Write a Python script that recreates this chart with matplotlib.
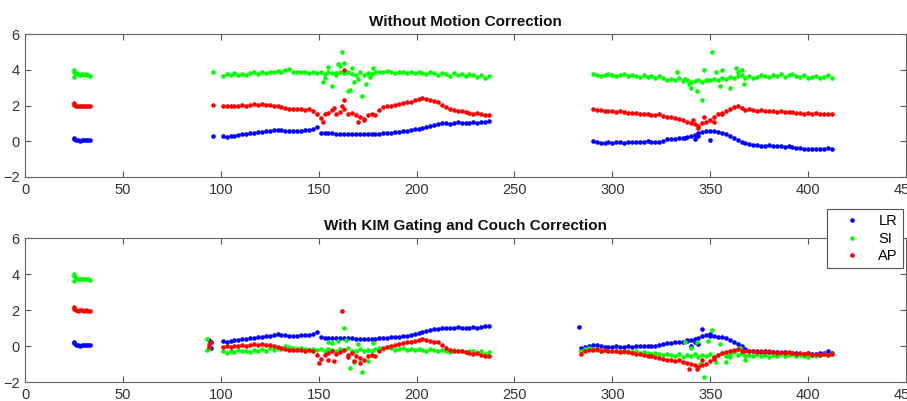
import matplotlib
matplotlib.use("Agg")
import matplotlib.pyplot as plt
import numpy as np

plt.rcParams["font.family"] = ["Liberation Sans", "DejaVu Sans"]

# time samples (s) for each acquisition segment
seg1_t = np.arange(25, 34, 1)
seg2_t = np.arange(101, 238, 2)
seg3_t = np.arange(290, 413, 2)
seg3b_t = np.arange(284, 413, 2)

# first segment (same in both panels)
lr_1 = [0.15, 0.05, 0.05, 0.0, 0.05, 0.05, 0.05, 0.05, 0.05]
si_1 = [3.9, 3.8, 3.75, 3.7, 3.75, 3.7, 3.75, 3.7, 3.65]
ap_1 = [2.05, 2.0, 1.95, 2.0, 2.0, 1.95, 2.0, 1.95, 1.95]

# --- without motion correction ---
lr_2 = [0.30, 0.25, 0.28, 0.32, 0.35, 0.38, 0.40, 0.45, 0.45, 0.50,
        0.52, 0.55, 0.58, 0.62, 0.65, 0.62, 0.60, 0.58, 0.57, 0.58,
        0.60, 0.62, 0.63, 0.68, 0.78, 0.48, 0.45, 0.45, 0.44, 0.43,
        0.43, 0.42, 0.42, 0.42, 0.41, 0.40, 0.41, 0.40, 0.40, 0.41,
        0.42, 0.44, 0.46, 0.48, 0.50, 0.52, 0.55, 0.58, 0.62, 0.66,
        0.70, 0.76, 0.82, 0.88, 0.93, 0.97, 1.00, 1.00, 0.98, 1.00,
        1.05, 1.00, 1.00, 1.02, 1.05, 1.00, 1.05, 1.10, 1.12]
si_2 = [3.65, 3.75, 3.70, 3.80, 3.72, 3.78, 3.70, 3.80, 3.85, 3.75,
        3.85, 3.80, 3.90, 3.85, 3.95, 3.85, 4.00, 4.05, 3.90, 3.85,
        3.90, 3.85, 3.80, 3.85, 3.80, 3.85, 3.75, 3.85, 3.80, 3.70,
        3.85, 3.80, 3.90, 3.75, 3.70, 3.85, 3.70, 3.80, 3.75, 3.85,
        3.90, 3.85, 3.95, 3.90, 3.80, 3.85, 3.90, 3.80, 3.85, 3.80,
        3.85, 3.80, 3.75, 3.85, 3.80, 3.70, 3.80, 3.75, 3.65, 3.80,
        3.70, 3.75, 3.65, 3.75, 3.70, 3.60, 3.70, 3.55, 3.65]
ap_2 = [1.95, 2.00, 1.95, 2.00, 2.00, 2.05, 2.00, 2.05, 2.10, 2.05,
        2.10, 2.05, 2.05, 2.00, 1.95, 1.90, 1.85, 1.80, 1.80, 1.78,
        1.80, 1.75, 1.78, 1.70, 1.50, 1.30, 1.50, 1.60, 1.75, 1.55,
        1.65, 1.80, 1.50, 1.60, 1.45, 1.35, 1.25, 1.45, 1.50, 1.45,
        1.75, 1.90, 1.95, 2.00, 2.05, 2.10, 2.15, 2.20, 2.20, 2.30,
        2.35, 2.40, 2.35, 2.30, 2.25, 2.20, 2.05, 1.90, 1.80, 1.75,
        1.70, 1.70, 1.65, 1.60, 1.55, 1.60, 1.50, 1.45, 1.45]

lr_3 = [0.00, -0.05, -0.10, -0.08, -0.05, -0.08, -0.05, -0.05, -0.08, -0.03,
        -0.05, -0.03, -0.05, -0.02, 0.00, -0.03, -0.05, -0.03, 0.00, 0.10,
        0.12, 0.15, 0.18, 0.20, 0.25, 0.30, 0.35, 0.45, 0.50, 0.58,
        0.55, 0.55, 0.50, 0.45, 0.40, 0.30, 0.18, 0.08, -0.05, -0.12,
        -0.18, -0.20, -0.22, -0.25, -0.25, -0.22, -0.25, -0.28, -0.25, -0.30,
        -0.28, -0.30, -0.35, -0.40, -0.45, -0.42, -0.45, -0.45, -0.45, -0.42,
        -0.35, -0.45]
si_3 = [3.75, 3.70, 3.65, 3.70, 3.75, 3.70, 3.65, 3.70, 3.75, 3.65,
        3.70, 3.65, 3.60, 3.70, 3.60, 3.65, 3.55, 3.65, 3.55, 3.45,
        3.50, 3.40, 3.55, 3.35, 3.40, 3.30, 3.35, 3.40, 3.30, 3.45,
        3.40, 3.50, 3.45, 3.55, 3.50, 3.60, 3.55, 3.65, 3.70, 3.55,
        3.65, 3.55, 3.60, 3.70, 3.65, 3.60, 3.70, 3.65, 3.75, 3.60,
        3.70, 3.75, 3.65, 3.60, 3.70, 3.55, 3.60, 3.65, 3.55, 3.60,
        3.70, 3.55]
ap_3 = [1.80, 1.75, 1.75, 1.70, 1.72, 1.70, 1.65, 1.68, 1.62, 1.60,
        1.60, 1.58, 1.55, 1.55, 1.50, 1.48, 1.45, 1.50, 1.40, 1.35,
        1.35, 1.30, 1.25, 1.20, 1.10, 1.00, 0.95, 0.85, 1.00, 1.10,
        1.20, 1.35, 1.50, 1.60, 1.70, 1.80, 1.90, 1.95, 1.85, 1.75,
        1.80, 1.75, 1.70, 1.75, 1.70, 1.72, 1.70, 1.65, 1.70, 1.65,
        1.62, 1.65, 1.60, 1.58, 1.55, 1.60, 1.55, 1.58, 1.55, 1.52,
        1.55, 1.50]

# scattered samples (time, value)
lr_top_x = [25, 96, 337, 342, 344, 350]
lr_top_y = [0.2, 0.3, 0.2, 0.1, 0.3, 0.05]
si_top_x = [25, 25, 96, 152, 153, 155, 157, 159, 160, 161, 162, 163, 164,
            165, 166, 167, 168, 170, 172, 174, 176, 178, 333, 337, 339, 340,
            343, 346, 347, 349, 351, 353, 355, 356, 360, 363, 364, 366, 367]
si_top_y = [4.0, 3.6, 3.9, 3.3, 3.55, 4.15, 3.1, 3.8, 4.3, 4.2, 5.0, 4.35, 3.9,
            2.8, 2.85, 4.1, 3.3, 3.5, 2.55, 3.2, 3.6, 4.1, 3.85, 3.5, 3.2, 3.0,
            2.8, 2.3, 4.0, 3.4, 5.0, 3.9, 3.1, 4.0, 3.0, 4.1, 3.9, 4.0, 3.2]
ap_top_x = [25, 96, 152, 158, 162, 163, 163, 170, 173, 341, 344, 347, 352, 356]
ap_top_y = [2.15, 2.05, 1.05, 1.85, 1.95, 3.97, 2.3, 1.1, 1.2, 1.2, 0.75, 1.35,
            1.05, 1.5]

# --- with KIM gating and couch correction ---
si_2b = [-0.30, -0.40, -0.30, -0.35, -0.20, -0.30, -0.25, -0.35, -0.20, -0.25,
         -0.15, -0.25, -0.10, -0.20, -0.10, -0.15, 0.00, -0.05, -0.10, -0.15,
         -0.10, -0.15, -0.20, -0.15, -0.20, -0.15, -0.25, -0.15, -0.20, -0.30,
         -0.15, -0.20, -0.10, -0.25, -0.30, -0.15, -0.30, -0.20, -0.25, -0.15,
         -0.10, -0.15, -0.05, -0.10, -0.20, -0.15, -0.10, -0.20, -0.15, -0.20,
         -0.15, -0.20, -0.25, -0.15, -0.20, -0.30, -0.20, -0.25, -0.35, -0.20,
         -0.30, -0.25, -0.35, -0.25, -0.30, -0.40, -0.30, -0.45, -0.35]
ap_2b = [-0.05, 0.00, -0.05, 0.00, 0.00, 0.05, 0.00, 0.05, 0.10, 0.05,
         0.10, 0.05, 0.05, 0.00, -0.05, -0.10, -0.15, -0.20, -0.20, -0.22,
         -0.20, -0.25, -0.22, -0.30, -0.50, -0.70, -0.50, -0.40, -0.25, -0.45,
         -0.35, -0.20, -0.50, -0.40, -0.55, -0.65, -0.75, -0.55, -0.50, -0.55,
         -0.25, -0.10, -0.05, 0.00, 0.05, 0.10, 0.15, 0.20, 0.20, 0.30,
         0.35, 0.40, 0.35, 0.30, 0.25, 0.20, 0.05, -0.10, -0.20, -0.25,
         -0.30, -0.30, -0.35, -0.40, -0.45, -0.40, -0.50, -0.55, -0.55]

lr_3b = [-0.10, -0.05, 0.00,
         0.05, 0.05, 0.00, -0.05, -0.03, -0.05, -0.02, -0.05, -0.03, 0.00,
         -0.03, 0.00, -0.02, 0.00, 0.02, -0.02, 0.00, 0.05, 0.10, 0.15,
         0.18, 0.20, 0.25, 0.25, 0.30, 0.35, 0.40, 0.45, 0.55, 0.60,
         0.58, 0.55, 0.52, 0.50, 0.45, 0.35, 0.25, 0.12, 0.00, -0.15,
         -0.25, -0.30, -0.30, -0.32, -0.30, -0.35, -0.32, -0.35, -0.38, -0.35,
         -0.38, -0.40, -0.38, -0.42, -0.45, -0.40, -0.42, -0.45, -0.40, -0.40,
         -0.30, -0.40]
si_3b = [-0.30, -0.15, -0.10,
         -0.15, -0.20, -0.25, -0.20, -0.25, -0.30, -0.25, -0.30, -0.35, -0.30,
         -0.35, -0.30, -0.40, -0.35, -0.40, -0.45, -0.40, -0.45, -0.50, -0.45,
         -0.50, -0.55, -0.45, -0.60, -0.50, -0.55, -0.45, -0.60, -0.50, -0.55,
         -0.45, -0.60, -0.50, -0.40, -0.55, -0.45, -0.35, -0.50, -0.40, -0.55,
         -0.50, -0.55, -0.45, -0.55, -0.50, -0.60, -0.50, -0.55, -0.45, -0.55,
         -0.50, -0.45, -0.55, -0.50, -0.55, -0.60, -0.50, -0.55, -0.50, -0.45,
         -0.50, -0.45]
ap_3b = [-0.45, -0.30, -0.20,
         -0.20, -0.15, -0.25, -0.20, -0.30, -0.25, -0.30, -0.35, -0.30, -0.35,
         -0.40, -0.45, -0.45, -0.50, -0.55, -0.55, -0.60, -0.65, -0.70, -0.75,
         -0.80, -0.85, -0.80, -0.90, -0.95, -1.00, -1.05, -1.15, -1.05, -1.00,
         -0.85, -0.70, -0.50, -0.40, -0.35, -0.25, -0.20, -0.15, -0.25, -0.30,
         -0.25, -0.30, -0.35, -0.30, -0.35, -0.30, -0.35, -0.40, -0.35, -0.40,
         -0.35, -0.40, -0.45, -0.40, -0.45, -0.40, -0.50, -0.45, -0.50, -0.45,
         -0.50, -0.45]

lr_bot_x = [25, 94, 95, 95, 283, 338, 340, 342, 344, 346, 350]
lr_bot_y = [0.2, 0.35, 0.25, -0.1, 1.05, 0.35, 0.0, 0.2, 0.1, 0.95, 0.65]
si_bot_x = [25, 25, 93, 93, 94, 155, 157, 160, 163, 164, 166, 168, 170, 172,
            175, 178, 337, 340, 343, 345, 347, 349, 351, 353, 355, 358, 360,
            363, 365, 368]
si_bot_y = [4.0, 3.6, 0.4, -0.2, -0.1, 0.2, 0.15, 0.3, 1.0, 0.35, -1.2, -0.9,
            0.1, -1.45, -0.85, 0.15, 0.2, -0.1, 0.25, -1.0, -1.7, 0.3, 0.9,
            -0.9, 0.1, -0.9, -0.6, -0.2, -0.1, -0.8]
ap_bot_x = [25, 94, 94, 95, 150, 155, 158, 162, 165, 168, 171, 339, 343, 346,
            352]
ap_bot_y = [2.15, 0.1, -0.05, 0.2, -0.95, -0.8, -0.85, 1.95, -0.6, -0.85,
            -0.95, -1.3, -1.25, -0.8, -0.6]

blue, green, red = "#0000ff", "#00ff00", "#ff0000"
dot = dict(linestyle="none", marker="o", ms=3.3, mew=0)

fig = plt.figure(figsize=(9.07, 4.01), dpi=100)
ax1 = fig.add_axes([25 / 907, 1 - 177 / 401, 881 / 907, 143 / 401])
ax2 = fig.add_axes([25 / 907, 1 - 382 / 401, 881 / 907, 144 / 401])


def draw(ax, lr_parts, si_parts, ap_parts):
    for parts, c in ((lr_parts, blue), (si_parts, green), (ap_parts, red)):
        for t, v in parts:
            ax.plot(t, v, color=c, **dot)


draw(ax1,
     [(seg1_t, lr_1), (seg2_t, lr_2), (seg3_t, lr_3), (lr_top_x, lr_top_y)],
     [(seg1_t, si_1), (seg2_t, si_2), (seg3_t, si_3), (si_top_x, si_top_y)],
     [(seg1_t, ap_1), (seg2_t, ap_2), (seg3_t, ap_3), (ap_top_x, ap_top_y)])
draw(ax2,
     [(seg1_t, lr_1), (seg2_t, lr_2), (seg3b_t, lr_3b), (lr_bot_x, lr_bot_y)],
     [(seg1_t, si_1), (seg2_t, si_2b), (seg3b_t, si_3b), (si_bot_x, si_bot_y)],
     [(seg1_t, ap_1), (seg2_t, ap_2b), (seg3b_t, ap_3b), (ap_bot_x, ap_bot_y)])

titles = ["Without Motion Correction", "With KIM Gating and Couch Correction"]
for ax, title in zip((ax1, ax2), titles):
    ax.set_xlim(0, 450)
    ax.set_ylim(-2, 6)
    ax.set_xticks(np.arange(0, 451, 50))
    ax.set_yticks(np.arange(-2, 7, 2))
    ax.tick_params(direction="in", top=True, right=True, length=4,
                   width=0.8, colors="#555555", labelcolor="#333333",
                   labelsize=10.5, pad=4)
    for s in ax.spines.values():
        s.set_color("#666666")
        s.set_linewidth(0.8)
    ax.set_title(title, fontsize=11, fontweight="bold", color="#111111", pad=6)

handles = [plt.Line2D([], [], color=c, **dot) for c in (blue, green, red)]
leg = fig.legend(handles, ["LR", "SI", "AP"], loc="upper right",
                 bbox_to_anchor=(903 / 907, 1 - 209 / 401), fontsize=10.5,
                 frameon=True, fancybox=False, framealpha=1, borderaxespad=0,
                 handlelength=2.8, handletextpad=0.4, labelspacing=0.25,
                 borderpad=0.35)
leg.get_frame().set_edgecolor("#555555")
leg.get_frame().set_linewidth(0.8)

fig.savefig("out.png", dpi=100)
